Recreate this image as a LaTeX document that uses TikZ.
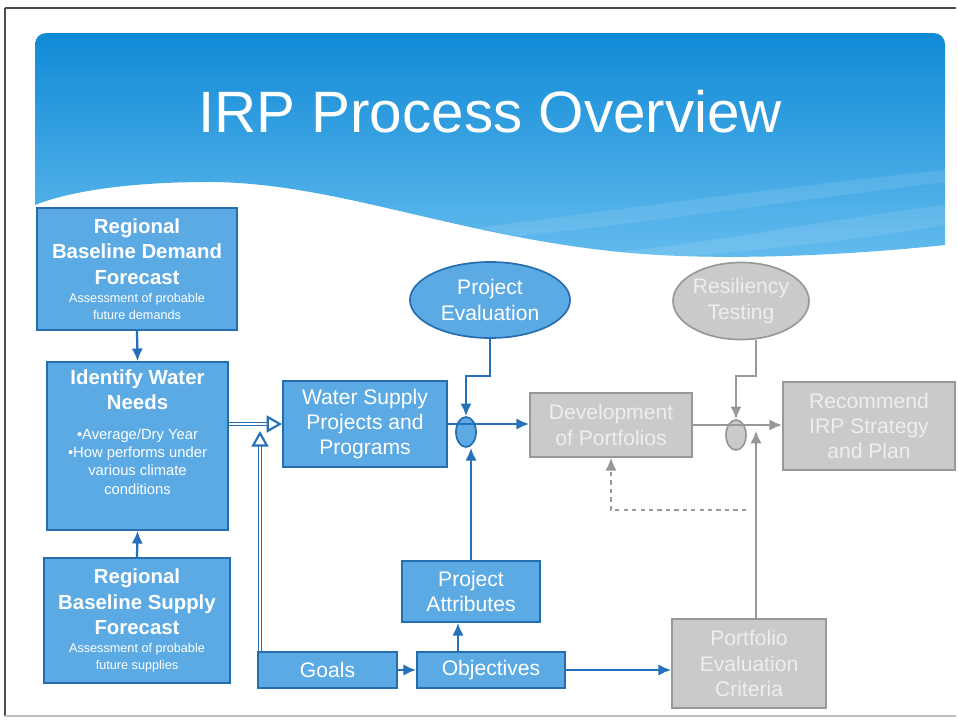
\documentclass[tikz,border=0pt]{standalone}
\usepackage{fontspec}
\setmainfont{Liberation Sans}
\usepackage{xcolor}
\usepackage{tikz}
\usetikzlibrary{calc}
\usetikzlibrary{shapes, arrows, arrows.meta}

\definecolor{bannertop}{RGB}{16,138,214}
\definecolor{bannerbot}{RGB}{100,188,238}
\definecolor{boxblue}{RGB}{92,170,228}
\definecolor{edgeblue}{RGB}{38,108,176}
\definecolor{arrowblue}{RGB}{36,112,186}
\definecolor{boxgray}{RGB}{202,202,202}
\definecolor{edgegray}{RGB}{152,152,152}
\definecolor{textgray}{RGB}{238,238,238}

\newcommand{\smline}[1]{{\fontsize{9}{11}\fontseries{m}\selectfont #1}}
\newcommand{\midline}[1]{{\fontsize{10.5}{11}\fontseries{m}\selectfont #1}}

\begin{document}
\begin{tikzpicture}[x=0.025cm, y=-0.025cm, >=latex,
    bluebox/.style={draw=edgeblue, line width=1.2pt, fill=boxblue, text=white, align=center, inner sep=2pt},
    graybox/.style={draw=edgegray, line width=1.2pt, fill=boxgray, text=textgray, align=center, inner sep=2pt},
    blueoval/.style={ellipse, draw=edgeblue, line width=1.2pt, fill=boxblue, text=white, align=center, inner sep=0pt},
    grayoval/.style={ellipse, draw=edgegray, line width=1.2pt, fill=boxgray, text=textgray, align=center, inner sep=0pt},
    bigtext/.style={font=\fontsize{15}{18}\selectfont},
    headtext/.style={font=\fontsize{14.5}{18}\selectfont\bfseries},
    flow/.style={draw=arrowblue, line width=1.6pt, -{Latex[length=9pt, width=8pt]}},
    grayflow/.style={draw=edgegray, line width=1.6pt, -{Latex[length=9pt, width=8pt]}},
    feed/.style={draw=arrowblue, double=white, double distance=1.6pt, line width=0.8pt, -{Triangle[open, length=11pt, width=12pt, line width=1.5pt]}}]
    % Page and frame
    \useasboundingbox (0,0) rectangle (958,724);
    \fill[white] (0,0) rectangle (958,724);
    \draw[black!70, line width=1pt] (5,8) -- (956,8);
    \draw[black!70, line width=1pt] (5,8) -- (5,716);
    \draw[black!25, line width=1pt] (5,716) -- (956,716);

    % Banner
    \shade[top color=bannertop, bottom color=bannerbot] (35,205) [rounded corners=8] -- (35,33) -- (945,33) [sharp corners] -- (945,245)
        .. controls (850,255) and (720,262) .. (620,252) .. controls (450,235) and (330,180) .. (200,182)
        .. controls (110,183) and (60,195) .. (35,205) -- cycle;
    \fill[white, opacity=0.1] (478,228) .. controls (650,205) and (800,185) .. (945,170) -- (945,182) .. controls (800,200) and (650,222) .. (520,236) -- cycle;
    \fill[white, opacity=0.1] (620,252) .. controls (760,235) and (860,215) .. (945,205) -- (945,225) .. controls (860,240) and (760,250) .. (680,257) -- cycle;
    \node[text=white, font=\fontsize{41.5}{43}\selectfont] (title) at (490,112) {IRP Process Overview};

    % Left column
    \node[bluebox, headtext, minimum width=5cm, minimum height=3.05cm] (demand) at (137,269)
        {Regional\\Baseline Demand\\Forecast\\[-5pt]\smline{Assessment of probable}\\[-6pt]\smline{future demands}};
    \node[bluebox, headtext, minimum width=4.525cm, minimum height=4.2cm] (needs) at (137.5,446)
        {Identify Water\\Needs\\[3pt]\midline{\textbullet Average/Dry Year}\\[-5pt]\midline{\textbullet How performs under}\\[-5pt]\midline{various climate}\\[-5pt]\midline{conditions}\\[2pt]};
    \node[bluebox, headtext, minimum width=4.65cm, minimum height=3.125cm] (supply) at (137,620.5)
        {Regional\\Baseline Supply\\Forecast\\[-5pt]\smline{Assessment of probable}\\[-6pt]\smline{future supplies}};

    % Middle
    \node[bluebox, bigtext, minimum width=4.1cm, minimum height=2.15cm] (wspp) at (365,424) {Water Supply\\Projects and\\Programs};
    \node[blueoval, bigtext, minimum width=4cm, minimum height=1.9cm] (eval) at (490,300) {Project\\Evaluation};
    \node[blueoval, minimum width=0.5cm, minimum height=0.75cm] (j1) at (466,432) {};
    \node[bluebox, bigtext, minimum width=3.45cm, minimum height=1.525cm] (attr) at (471,591.5) {Project\\Attributes};
    \node[bluebox, bigtext, minimum width=3.475cm, minimum height=0.9cm] (goals) at (327.5,670) {Goals};
    \node[bluebox, bigtext, minimum width=3.7cm, minimum height=0.9cm] (obj) at (491,670) {Objectives};

    % Right (grey)
    \node[graybox, bigtext, minimum width=4.05cm, minimum height=1.6cm] (dev) at (611,425) {Development\\of Portfolios};
    \node[grayoval, bigtext, minimum width=3.175cm, minimum height=1.925cm] (res) at (741,301) {Resiliency\\Testing};
    \node[grayoval, minimum width=0.5cm, minimum height=0.75cm] (j2) at (736,435) {};
    \node[graybox, bigtext, minimum width=4.3cm, minimum height=2.2cm] (rec) at (869,426) {Recommend\\IRP Strategy\\and Plan};
    \node[graybox, bigtext, minimum width=3.85cm, minimum height=2.225cm] (pec) at (749,663.5) {Portfolio\\Evaluation\\Criteria};

    % Helper coordinates
    \coordinate (gl) at (260,0);
    \coordinate (oa) at (458,0);
    \coordinate (rs) at (756,0);
    \coordinate (dend) at (746,510);

    % Blue connectors
    \draw[flow] (demand.south) -- (needs.north);
    \draw[flow] (supply.north) -- (needs.south);
    \draw[feed] (needs.east |- wspp.west) -- (wspp.west);
    \draw[feed] (goals.north -| gl) -- ([yshift=-5pt]gl |- wspp.west);
    \draw[flow] (eval.south) -- ++(0,37) -| (j1.north);
    \draw[flow] (wspp.east) -- (wspp.east -| dev.west);
    \draw[flow] (attr.north) -- (attr.north |- j1.south);
    \draw[flow] (obj.north -| oa) -- (attr.south -| oa);
    \draw[flow] (goals.east) -- (obj.west);
    \draw[flow] (obj.east) -- (obj.east -| pec.west);

    % Grey connectors
    \draw[grayflow] (res.south -| rs) -- ++(0,36) -| (j2.north);
    \draw[grayflow] (dev.east) -- (dev.east -| rec.west);
    \draw[grayflow] (pec.north -| rs) -- ([yshift=-4pt]rs |- dev.east);
    \draw[grayflow, dashed, line width=1.4pt] (dend) -| (dev.south);
\end{tikzpicture}
\end{document}
